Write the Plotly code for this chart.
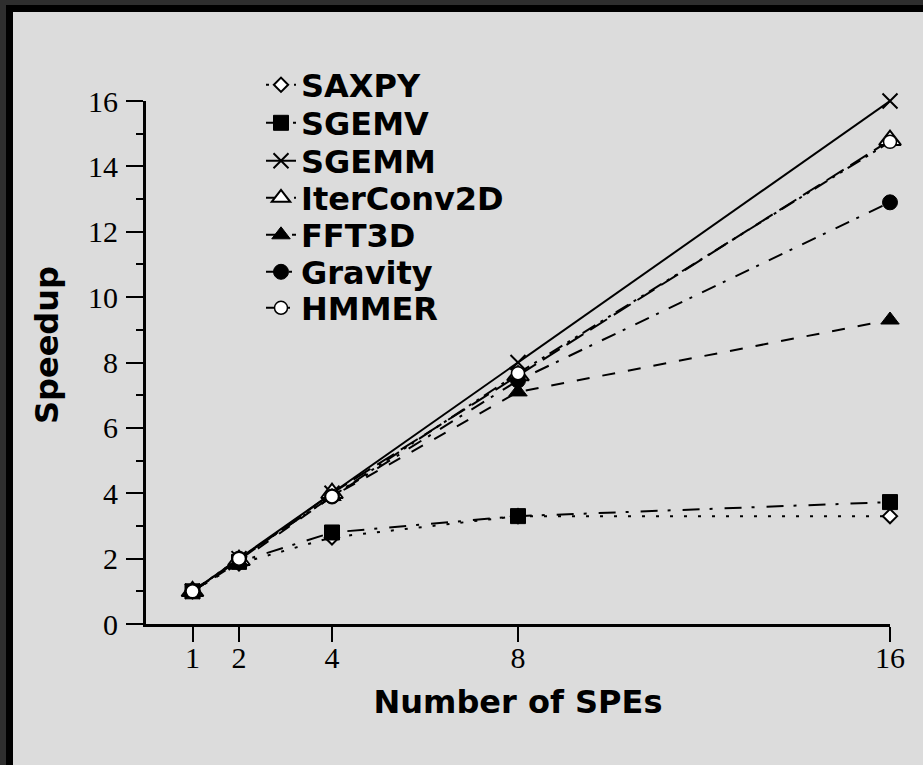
import plotly.graph_objects as go

# ---- data ----
spes = [1, 2, 4, 8, 16]
series_names = ["SAXPY", "SGEMV", "SGEMM", "IterConv2D", "FFT3D", "Gravity", "HMMER"]
saxpy = [1.0, 1.85, 2.65, 3.3, 3.3]
sgemv = [1.0, 1.9, 2.8, 3.3, 3.73]
sgemm = [1.0, 2.0, 4.0, 8.0, 16.0]
iterconv2d = [1.0, 1.95, 4.0, 7.6, 14.8]
fft3d = [1.0, 1.9, 3.9, 7.1, 9.3]
gravity = [1.0, 2.0, 3.9, 7.45, 12.9]
hmmer = [1.0, 2.0, 3.9, 7.67, 14.75]
x_ticks = [1, 2, 4, 8, 16]
y_ticks = [0, 2, 4, 6, 8, 10, 12, 14, 16]

values = [saxpy, sgemv, sgemm, iterconv2d, fft3d, gravity, hmmer]

styles = [
    dict(dash="3px,11px", symbol="diamond", mcolor="white", size=11, lw=2),
    dict(dash="17px,10px,3px,12px", symbol="square", mcolor="black", size=15, lw=1),
    dict(dash="solid", symbol="x-thin-open", mcolor="black", size=15, lw=2),
    dict(dash="20px,8px", symbol="triangle-up", mcolor="white", size=19, lw=2),
    dict(dash="13px,13px", symbol="triangle-up", mcolor="black", size=16, lw=1),
    dict(dash="15px,8px,3px,11px", symbol="circle", mcolor="black", size=15, lw=1),
    dict(dash="15px,6px,3px,6px,3px,6px", symbol="circle", mcolor="white", size=13, lw=1.5),
]

# layout geometry (page pixels; body margin removed)
W, H = 923, 765
L, R, T, B = 146, 33, 101, 141
PW, PH = W - L - R, H - T - B


def px2x(px):
    return (px - L) / PW


def py2y(py):
    return (H - B - py) / PH


legend_centers = [85, 123, 161, 198, 235, 272, 308]
LEG_FONT = dict(family="DejaVu Sans", size=32, color="black", weight="bold")
TITLE_FONT = dict(family="DejaVu Sans", size=32, color="black", weight="bold")
TICK_FONT = dict(family="Liberation Serif", size=30, color="black")

fig = go.Figure()
for i, (name, vals, st) in enumerate(zip(series_names, values, styles)):
    legend_id = "legend" if i == 0 else f"legend{i + 1}"
    fig.add_trace(go.Scatter(
        x=spes, y=vals, name=name, mode="lines+markers",
        line=dict(color="black", width=2, dash=st["dash"]),
        marker=dict(symbol=st["symbol"], size=st["size"], color=st["mcolor"],
                    line=dict(color="black", width=st["lw"])),
        cliponaxis=False,
        legend=legend_id,
    ))

legend_layout = {}
for i, cy in enumerate(legend_centers):
    key = "legend" if i == 0 else f"legend{i + 1}"
    legend_layout[key] = dict(
        x=px2x(261), y=py2y(cy), xanchor="left", yanchor="middle",
        bgcolor="rgba(0,0,0,0)", font=LEG_FONT, borderwidth=0,
        itemsizing="trace",
    )

BG = "#dcdcdc"
DARK = "#2e2e2e"
frame_shapes = [
    # outer dark strips (top, left)
    dict(type="rect", xref="paper", yref="paper", x0=px2x(-5), x1=px2x(W + 5),
         y0=py2y(5), y1=py2y(-5), fillcolor=DARK, line=dict(width=0), layer="above"),
    dict(type="rect", xref="paper", yref="paper", x0=px2x(-5), x1=px2x(6),
         y0=py2y(H + 5), y1=py2y(-5), fillcolor=DARK, line=dict(width=0), layer="above"),
    # black inner strips
    dict(type="rect", xref="paper", yref="paper", x0=px2x(6), x1=px2x(W + 5),
         y0=py2y(12), y1=py2y(5), fillcolor="black", line=dict(width=0), layer="above"),
    dict(type="rect", xref="paper", yref="paper", x0=px2x(6), x1=px2x(13),
         y0=py2y(H + 5), y1=py2y(5), fillcolor="black", line=dict(width=0), layer="above"),
]

fig.update_layout(
    width=W, height=H,
    margin=dict(l=L, r=R, t=T, b=B, pad=0),
    paper_bgcolor=BG, plot_bgcolor=BG,
    showlegend=True,
    shapes=frame_shapes,
    annotations=[dict(
        text="Speedup", textangle=-90, xref="paper", yref="paper",
        x=px2x(47), y=py2y(345), xanchor="center", yanchor="middle",
        showarrow=False, font=TITLE_FONT,
    )],
    **legend_layout,
)

fig.update_xaxes(
    range=[0, 16], tickvals=x_ticks, ticktext=[str(v) for v in x_ticks],
    showgrid=False, zeroline=False, showline=True, linecolor="black", linewidth=3,
    ticks="outside", ticklen=15, tickwidth=2, tickcolor="black",
    ticklabelstandoff=-10,
    tickfont=TICK_FONT,
    title=dict(text="Number of SPEs", standoff=18, font=TITLE_FONT),
)
fig.update_yaxes(
    range=[0, 16], tickvals=y_ticks, ticktext=[str(v) for v in y_ticks],
    showgrid=False, zeroline=False, showline=True, linecolor="black", linewidth=3,
    ticks="outside", ticklen=17, tickwidth=2, tickcolor="black",
    ticklabelstandoff=2,
    minor=dict(ticks="outside", ticklen=7, tickwidth=2, tickcolor="black", dtick=1, showgrid=False),
    tickfont=TICK_FONT,
)

fig.write_html(
    "out.html",
    config={"displayModeBar": False},
    post_script="document.body.style.margin='0';document.body.style.overflow='hidden';",
)
